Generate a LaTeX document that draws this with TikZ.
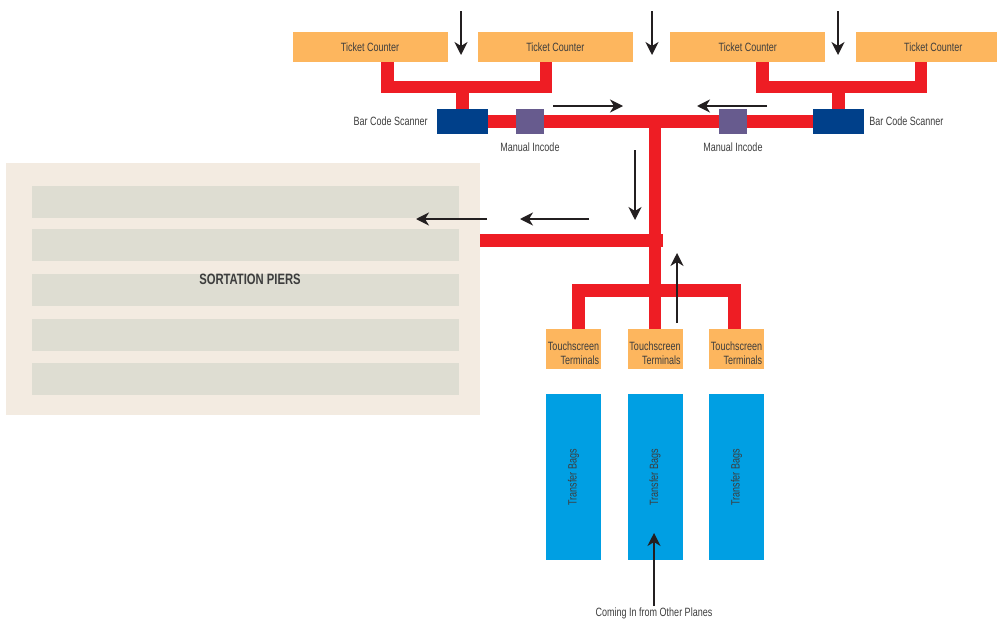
\documentclass[tikz,border=0pt]{standalone}
\usepackage{fontspec}
\setmainfont{Liberation Sans}[FakeStretch=0.75]
\usepackage{xcolor}
\usepackage{tikz}
\usetikzlibrary{positioning, calc, arrows.meta, backgrounds}

\definecolor{tcorange}{HTML}{FDB65E}
\definecolor{beltred}{HTML}{EE1D24}
\definecolor{scanblue}{HTML}{00408A}
\definecolor{incodepurple}{HTML}{675B8E}
\definecolor{bagblue}{HTML}{009FE3}
\definecolor{pierbg}{HTML}{F3EBE1}
\definecolor{pierbar}{HTML}{DEDDD2}
\definecolor{ink}{HTML}{231F20}
\definecolor{labelgray}{HTML}{3D3D3D}

\begin{document}
\begin{tikzpicture}[
        x=1pt, y=-1pt,
        counter/.style = {rectangle, fill=tcorange, minimum width=155pt, minimum height=30pt, inner sep=0pt, text=labelgray, font=\fontsize{12}{14}\selectfont},
        scanner/.style = {rectangle, fill=scanblue, minimum width=51pt, minimum height=25pt, inner sep=0pt},
        incode/.style = {rectangle, fill=incodepurple, minimum width=28pt, minimum height=25pt, inner sep=0pt},
        terminal/.style = {rectangle, fill=tcorange, minimum width=55pt, minimum height=40pt, inner xsep=1.5pt, inner ysep=0pt, align=right, text height=31pt, text depth=0pt, text=labelgray, font=\fontsize{12}{14.5}\selectfont},
        bag/.style = {rectangle, fill=bagblue, minimum width=55pt, minimum height=166pt, inner sep=0pt, text=labelgray, font=\fontsize{12}{14}\selectfont},
        piers/.style = {rectangle, fill=pierbg, minimum width=474pt, minimum height=252pt, inner sep=0pt},
        pierrow/.style = {rectangle, fill=pierbar, minimum width=427pt, minimum height=32pt, inner sep=0pt},
        tag/.style = {inner sep=1pt, text=labelgray, font=\fontsize{12}{14}\selectfont},
        belt/.style = {draw=beltred, line width=12.5pt},
        arrow/.style = {draw=ink, line width=1.5pt, -{Stealth[length=13pt, width=13pt, inset=4pt]}}
    ]

    \clip (0,0) rectangle (997,621);

    % --- ticket counters ---
    \node[counter] (tc1) at (370,47) {Ticket Counter};
    \node[counter, right=30pt of tc1] (tc2) {Ticket Counter};
    \node[counter, right=37pt of tc2] (tc3) {Ticket Counter};
    \node[counter, right=30pt of tc3] (tc4) {Ticket Counter};

    % --- scanners and manual incode ---
    \node[scanner] (sc1) at (462.5,121.5) {};
    \node[scanner] (sc2) at (838.5,121.5) {};
    \node[incode] (in1) at (530,121.5) {};
    \node[incode] (in2) at (733,121.5) {};
    \node[tag, left=8pt of sc1] (sc1lbl) {Bar Code Scanner};
    \node[tag, right=4pt of sc2] (sc2lbl) {Bar Code Scanner};
    \node[tag, below=7pt of in1] (in1lbl) {Manual Incode};
    \node[tag, below=7pt of in2] (in2lbl) {Manual Incode};

    % --- sortation piers ---
    \node[piers] (piers) at (243,289) {};
    \foreach \y [count=\i] in {202,245,290,335,379}
        \node[pierrow] (pier\i) at (245.5,\y) {};
    \node[tag, font=\fontsize{15}{17}\selectfont\bfseries] (pierlbl) at (250,279) {SORTATION PIERS};

    % --- touchscreen terminals and transfer bags ---
    \node[terminal] (ts1) at (573.5,349) {Touchscreen\\Terminals};
    \node[terminal] (ts2) at (655,349) {Touchscreen\\Terminals};
    \node[terminal] (ts3) at (736.5,349) {Touchscreen\\Terminals};
    \node[bag, below=25pt of ts1] (bag1) {\rotatebox{90}{Transfer Bags}};
    \node[bag, below=25pt of ts2] (bag2) {\rotatebox{90}{Transfer Bags}};
    \node[bag, below=25pt of ts3] (bag3) {\rotatebox{90}{Transfer Bags}};
    \node[tag] (planes) at (654,613) {Coming In from Other Planes};

    % --- conveyor belts (behind the boxes) ---
    \begin{scope}[on background layer]
        \draw[belt] ([xshift=17.5pt]tc1.south) -- ++(0,25) -| ([xshift=-9.5pt]tc2.south);
        \draw[belt] (sc1.north) -- ++(0,-23);
        \draw[belt] ([xshift=14.5pt]tc3.south) -- ++(0,25) -| ([xshift=-12pt]tc4.south);
        \draw[belt] (sc2.north) -- ++(0,-23);
        \draw[belt] (sc1.east) -- (sc2.west);
        \coordinate (hub) at (655,122);
        \draw[belt] (hub) -- (ts2.north);
        \coordinate (pierjoint) at (663,240.5);
        \draw[belt] (pierjoint) -- (pierjoint -| piers.east);
        \draw[belt] ([xshift=5pt]ts1.north) -- ++(0,-38.5) -| ([xshift=-2pt]ts3.north);
    \end{scope}

    % --- flow arrows ---
    \foreach \x [count=\i] in {461,652,838} {
        \coordinate (drop\i) at (\x,11);
        \coordinate (dropend\i) at (\x,55);
        \draw[arrow] (drop\i) -- (dropend\i);
    }
    \coordinate (fwdL) at (553,106);
    \coordinate (fwdLend) at (623,106);
    \draw[arrow] (fwdL) -- (fwdLend);
    \coordinate (fwdR) at (767,106);
    \coordinate (fwdRend) at (697,106);
    \draw[arrow] (fwdR) -- (fwdRend);
    \coordinate (down) at (635,150);
    \coordinate (downend) at (635,220);
    \draw[arrow] (down) -- (downend);
    \coordinate (topiers) at (589,219);
    \coordinate (topiersend) at (520,219);
    \draw[arrow] (topiers) -- (topiersend);
    \coordinate (intopiers) at (487,219);
    \coordinate (intopiersend) at (416,219);
    \draw[arrow] (intopiers) -- (intopiersend);
    \coordinate (up) at (677,323);
    \coordinate (upend) at (677,253);
    \draw[arrow] (up) -- (upend);
    \coordinate (planesend) at (654,533);
    \draw[arrow] (planes.north) -- (planesend);

\end{tikzpicture}
\end{document}
